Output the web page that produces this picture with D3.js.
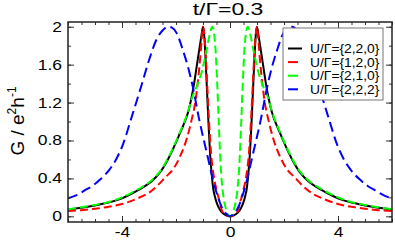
<!DOCTYPE html>
<html>
<head>
<meta charset="utf-8">
<script src="https://cdn.jsdelivr.net/npm/d3@7"></script>
<style>
body { margin: 0; background: #fff; }
text { font-family: "Liberation Sans", Arial, sans-serif; fill: #000; }
</style>
</head>
<body>
<div id="chart"></div>
<script>
// values (omega in units of Gamma, G in e^2/h)
var blackX = [-6, -5.5, -5, -4.5, -4, -3.5, -3.2, -2.9, -2.6, -2.3, -2, -1.85, -1.7, -1.55, -1.45, -1.33, -1.25, -1.16, -1.1, -1.05, -1, -0.96, -0.92, -0.86, -0.8, -0.74, -0.68, -0.62, -0.56, -0.5, -0.43, -0.35, -0.25, -0.1, 0,
              0.1, 0.25, 0.35, 0.43, 0.5, 0.56, 0.62, 0.68, 0.74, 0.8, 0.86, 0.92, 0.96, 1, 1.05, 1.1, 1.16, 1.25, 1.33, 1.45, 1.55, 1.7, 1.85, 2, 2.3, 2.6, 2.9, 3.2, 3.5, 4, 4.5, 5, 5.5, 6];
var blackG = [0.072, 0.09, 0.115, 0.145, 0.19, 0.26, 0.31, 0.37, 0.46, 0.6, 0.78, 0.88, 0.98, 1.1, 1.22, 1.4, 1.55, 1.72, 1.83, 1.92, 2, 1.93, 1.75, 1.38, 1, 0.67, 0.45, 0.29, 0.21, 0.15, 0.1, 0.06, 0.03, 0.005, 0,
              0.005, 0.03, 0.06, 0.1, 0.15, 0.21, 0.29, 0.45, 0.67, 1, 1.38, 1.75, 1.93, 2, 1.92, 1.83, 1.72, 1.55, 1.4, 1.22, 1.1, 0.98, 0.88, 0.78, 0.6, 0.46, 0.37, 0.31, 0.26, 0.19, 0.145, 0.115, 0.09, 0.072];

var redX = [-6, -5.5, -5, -4.5, -4, -3.5, -3, -2.7, -2.4, -2.1, -1.82, -1.6, -1.42, -1.3, -1.21, -1.15, -1.09, -1.04, -1, -0.97, -0.92, -0.85, -0.78, -0.7, -0.6, -0.49, -0.37, -0.3, -0.2, 0,
            0.2, 0.3, 0.37, 0.49, 0.6, 0.7, 0.78, 0.85, 0.92, 0.97, 1, 1.04, 1.09, 1.15, 1.21, 1.3, 1.42, 1.6, 1.82, 2.1, 2.4, 2.7, 3, 3.5, 4, 4.5, 5, 5.5, 6];
var redG = [0.055, 0.065, 0.08, 0.1, 0.13, 0.18, 0.25, 0.32, 0.41, 0.5, 0.65, 0.82, 1.02, 1.18, 1.37, 1.53, 1.72, 1.9, 2, 1.96, 1.8, 1.42, 1.02, 0.66, 0.42, 0.27, 0.14, 0.06, 0.025, 0,
            0.025, 0.06, 0.14, 0.27, 0.42, 0.66, 1.02, 1.42, 1.8, 1.96, 2, 1.9, 1.72, 1.53, 1.37, 1.18, 1.02, 0.82, 0.65, 0.5, 0.41, 0.32, 0.25, 0.18, 0.13, 0.1, 0.08, 0.065, 0.055];

var greenX = [-6, -5.5, -5, -4.5, -4, -3.5, -3.2, -2.9, -2.6, -2.3, -2, -1.85, -1.7, -1.55, -1.42, -1.23, -1.05, -0.89, -0.75, -0.66, -0.6, -0.54, -0.48, -0.42, -0.36, -0.3, -0.24, -0.17, -0.1, 0,
              0.1, 0.17, 0.24, 0.3, 0.36, 0.42, 0.48, 0.54, 0.6, 0.66, 0.75, 0.89, 1.05, 1.23, 1.42, 1.55, 1.7, 1.85, 2, 2.3, 2.6, 2.9, 3.2, 3.5, 4, 4.5, 5, 5.5, 6];
var greenG = [0.075, 0.095, 0.12, 0.15, 0.2, 0.27, 0.32, 0.38, 0.47, 0.61, 0.79, 0.89, 0.99, 1.11, 1.24, 1.37, 1.52, 1.72, 1.92, 2, 1.95, 1.78, 1.45, 1.02, 0.62, 0.35, 0.2, 0.1, 0.03, 0,
              0.03, 0.1, 0.2, 0.35, 0.62, 1.02, 1.45, 1.78, 1.95, 2, 1.92, 1.72, 1.52, 1.37, 1.24, 1.11, 0.99, 0.89, 0.79, 0.61, 0.47, 0.38, 0.32, 0.27, 0.2, 0.15, 0.12, 0.095, 0.075];

var blueX = [-6, -5.7, -5.4, -5.1, -4.8, -4.5, -4.2, -3.95, -3.65, -3.28, -3.04, -2.73, -2.5, -2.3, -2.15, -1.97, -1.73, -1.55, -1.38, -1.14, -0.86, -0.56, -0.31, -0.12, 0,
             0.12, 0.31, 0.56, 0.86, 1.14, 1.38, 1.55, 1.73, 1.97, 2.15, 2.3, 2.5, 2.73, 3.04, 3.28, 3.65, 3.95, 4.2, 4.5, 4.8, 5.1, 5.4, 5.7, 6];
var blueG = [0.19, 0.22, 0.27, 0.32, 0.39, 0.48, 0.61, 0.77, 1.04, 1.38, 1.61, 1.86, 1.96, 2, 1.99, 1.93, 1.74, 1.57, 1.37, 1.02, 0.67, 0.31, 0.1, 0.02, 0,
             0.02, 0.1, 0.31, 0.67, 1.02, 1.37, 1.57, 1.74, 1.93, 1.99, 2, 1.96, 1.86, 1.61, 1.38, 1.04, 0.77, 0.61, 0.48, 0.39, 0.32, 0.27, 0.22, 0.19];

var seriesNames = ["U/\u0393={2,2,0}", "U/\u0393={1,2,0}", "U/\u0393={2,1,0}", "U/\u0393={2,2,2}"];
var seriesColors = ["#000000", "#ff0000", "#00ff00", "#0000ff"];
var seriesDash = [null, "8,4", "8,4", "10,5"];
var seriesX = [blackX, redX, greenX, blueX];
var seriesG = [blackG, redG, greenG, blueG];

var xTicks = [-4, 0, 4];
var yTicks = [0, 0.4, 0.8, 1.2, 1.6, 2];

var width = 395, height = 240;
var margin = {top: 22, right: 3, bottom: 18, left: 68};

var svg = d3.select("#chart").append("svg")
    .attr("width", width)
    .attr("height", height);

var x = d3.scaleLinear().domain([-6, 6]).range([margin.left, width - margin.right]);
var y = d3.scaleLinear().domain([-0.06, 2.05]).range([height - margin.bottom, margin.top]);

svg.append("clipPath").attr("id", "clip")
    .append("rect")
    .attr("x", margin.left).attr("y", margin.top)
    .attr("width", x.range()[1] - x.range()[0])
    .attr("height", y.range()[0] - y.range()[1]);

var line = d3.line()
    .x(function(d) { return x(d[0]); })
    .y(function(d) { return y(d[1]); })
    .curve(d3.curveMonotoneX);

var curves = svg.append("g").attr("clip-path", "url(#clip)");
seriesX.forEach(function(xs, i) {
    var pts = xs.map(function(v, j) { return [v, seriesG[i][j]]; });
    curves.append("path")
        .datum(pts)
        .attr("fill", "none")
        .attr("stroke", seriesColors[i])
        .attr("stroke-width", 2)
        .attr("stroke-dasharray", seriesDash[i])
        .attr("d", line);
});

// axes: ticks inward on all four sides
var minorX = d3.range(-6, 6.01, 0.5), minorY = d3.range(0, 2.01, 0.2);
var stretch = 1.25;

function frameAxis(axis, tr) {
    var g = svg.append("g").attr("transform", tr).call(axis);
    g.select(".domain").remove();
    g.selectAll("line").attr("stroke", "#333").attr("stroke-width", 1);
    return g;
}

var bottomY = y.range()[0], topY = y.range()[1];
var leftX = x.range()[0], rightX = x.range()[1];

frameAxis(d3.axisBottom(x).tickValues(minorX).tickSize(-3).tickFormat(""), "translate(0," + bottomY + ")");
frameAxis(d3.axisTop(x).tickValues(minorX).tickSize(-3).tickFormat(""), "translate(0," + topY + ")");
frameAxis(d3.axisTop(x).tickValues(xTicks).tickSize(-6).tickFormat(""), "translate(0," + topY + ")");
var xAxis = frameAxis(d3.axisBottom(x).tickValues(xTicks).tickSize(-6).tickPadding(5)
    .tickFormat(function(d) { return d < 0 ? "-" + Math.abs(d) : d; }), "translate(0," + bottomY + ")");
xAxis.selectAll("text").attr("font-size", 14).attr("transform", "scale(" + stretch + ",1)");

frameAxis(d3.axisLeft(y).tickValues(minorY).tickSize(-3).tickFormat(""), "translate(" + leftX + ",0)");
frameAxis(d3.axisRight(y).tickValues(minorY).tickSize(-3).tickFormat(""), "translate(" + rightX + ",0)");
frameAxis(d3.axisRight(y).tickValues(yTicks).tickSize(-6).tickFormat(""), "translate(" + rightX + ",0)");
var yAxis = frameAxis(d3.axisLeft(y).tickValues(yTicks).tickSize(-6).tickPadding(6 / stretch)
    .tickFormat(d3.format("~g")), "translate(" + leftX + ",0)");
yAxis.selectAll("text").attr("font-size", 14).attr("transform", "scale(" + stretch + ",1)");

svg.append("rect")
    .attr("x", leftX).attr("y", topY)
    .attr("width", rightX - leftX).attr("height", bottomY - topY)
    .attr("fill", "none").attr("stroke", "#222").attr("stroke-width", 1.5);

// title
svg.append("text")
    .attr("transform", "translate(228,15) scale(1.35,1)")
    .attr("text-anchor", "middle")
    .attr("font-size", 17)
    .text("t/\u0393=0.3");

// y label
var yl = svg.append("text")
    .attr("transform", "translate(24,121) rotate(-90)")
    .attr("text-anchor", "middle")
    .attr("font-size", 19);
yl.append("tspan").text("G / e");
yl.append("tspan").attr("font-size", 12).attr("dy", -8).text("2");
yl.append("tspan").attr("dy", 8).text("h");
yl.append("tspan").attr("font-size", 12).attr("dy", -8).text("-1");

// legend
var legend = svg.append("g");
legend.append("rect")
    .attr("x", 283).attr("y", 28).attr("width", 100).attr("height", 72)
    .attr("fill", "#fff").attr("stroke", "#777").attr("stroke-width", 1);
seriesNames.forEach(function(name, i) {
    var ry = 48.5 + i * 13.6;
    legend.append("line")
        .attr("x1", 288).attr("x2", 302).attr("y1", ry).attr("y2", ry)
        .attr("stroke", seriesColors[i]).attr("stroke-width", 2)
        .attr("stroke-dasharray", seriesDash[i] ? "10,4" : null);
    legend.append("text")
        .attr("transform", "translate(310," + (ry + 4.5) + ") scale(1.15,1)")
        .attr("font-size", 12)
        .text(name);
});
</script>
</body>
</html>
